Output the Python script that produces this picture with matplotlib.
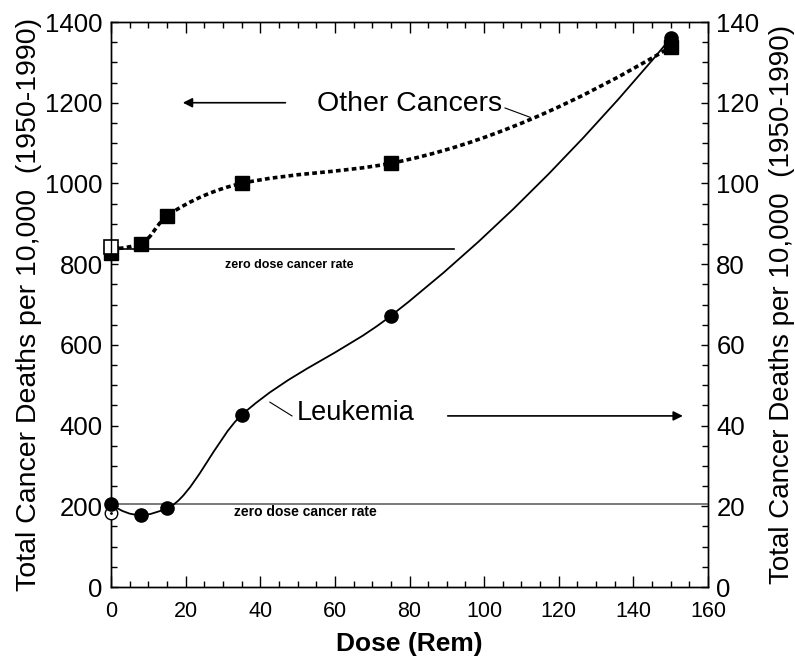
import numpy as np
import matplotlib
matplotlib.use("Agg")
import matplotlib.pyplot as plt
from matplotlib.path import Path
from matplotlib.patches import PathPatch
from matplotlib.ticker import MultipleLocator

plt.rcParams['font.family'] = ['Liberation Sans', 'DejaVu Sans']

# Other cancers (left axis, deaths per 10,000)
other_dose = [0, 8, 15, 35, 75, 150]
other_vals = [828, 850, 920, 1000, 1050, 1338]
other_zero_open = 843
other_zero_rate = 838

# Leukemia (right axis, deaths per 10,000)
leuk_dose = [0, 8, 15, 35, 75, 150]
leuk_vals = [20.5, 17.8, 19.5, 42.6, 67.2, 136]
leuk_zero_open = 18.3
leuk_zero_rate = 20.5

ylabel = "Total Cancer Deaths per 10,000  (1950-1990)"


def pchip_slopes(x, y):
    h = np.diff(x)
    d = np.diff(y) / h
    m = np.zeros(len(x))
    for i in range(1, len(x) - 1):
        if d[i - 1] * d[i] > 0:
            w1 = 2 * h[i] + h[i - 1]
            w2 = h[i] + 2 * h[i - 1]
            m[i] = (w1 + w2) / (w1 / d[i - 1] + w2 / d[i])
    # end points
    m0 = ((2 * h[0] + h[1]) * d[0] - h[0] * d[1]) / (h[0] + h[1])
    m[0] = m0 if m0 * d[0] > 0 else 0.0
    mn = ((2 * h[-1] + h[-2]) * d[-1] - h[-1] * d[-2]) / (h[-1] + h[-2])
    m[-1] = mn if mn * d[-1] > 0 else 0.0
    return m


def smooth_path(xs, ys):
    # piecewise cubic hermite through the points, drawn as bezier segments
    x = np.asarray(xs, float)
    y = np.asarray(ys, float)
    m = pchip_slopes(x, y)
    verts = [(x[0], y[0])]
    codes = [Path.MOVETO]
    for i in range(len(x) - 1):
        h = x[i + 1] - x[i]
        verts += [(x[i] + h / 3, y[i] + m[i] * h / 3),
                  (x[i + 1] - h / 3, y[i + 1] - m[i + 1] * h / 3),
                  (x[i + 1], y[i + 1])]
        codes += [Path.CURVE4] * 3
    return Path(verts, codes)


fig = plt.figure(figsize=(7.95, 6.67), dpi=100)
ax = fig.add_axes([0.1396, 0.1199, 0.751, 0.8471])
ax2 = ax.twinx()

ax.set_xlim(0, 160)
ax.set_ylim(0, 1400)
ax2.set_ylim(0, 140)

# other cancers curve
ox = other_dose
oy = [other_zero_rate] + other_vals[1:]
ax.add_patch(PathPatch(smooth_path(ox, oy), fill=False, lw=2.6,
                       linestyle=(0, (1.3, 0.9)), color='black', zorder=3))
ax.plot(other_dose, other_vals, 's', color='black', ms=10, zorder=4, clip_on=False)
ax.plot([0], [other_zero_open], 's', mfc='white', mec='black', ms=10, mew=1.2,
        zorder=5, clip_on=False)
ax.plot([0, 92], [other_zero_rate, other_zero_rate], color='black', lw=1.2)
ax.text(47.7, 797, "zero dose cancer rate", fontsize=9, fontweight='bold',
        ha='center', va='center')

# leukemia curve
ax2.add_patch(PathPatch(smooth_path(leuk_dose, leuk_vals), fill=False, lw=1.3,
                        color='black', zorder=3))
ax2.plot([0], [leuk_zero_open], 'o', mfc='white', mec='black', ms=9, mew=1.0,
         zorder=4, clip_on=False)
ax2.plot([0], [leuk_zero_open], '.', color='black', ms=2, zorder=5, clip_on=False)
ax2.plot(leuk_dose, leuk_vals, 'o', color='black', ms=9.5, zorder=6, clip_on=False)
ax2.plot([0, 160], [leuk_zero_rate, leuk_zero_rate], color='#555555', lw=1.1)
ax2.text(52, 18.5, "zero dose cancer rate", fontsize=10, fontweight='bold',
         ha='center', va='center')

# labels with arrows
ax.text(80, 1197, "Other Cancers", fontsize=20.5, ha='center', va='center')
ax.annotate("", xy=(18.5, 1200), xytext=(47.5, 1200),
            arrowprops=dict(arrowstyle='-|>', color='black', lw=1.2,
                            mutation_scale=14))
ax.plot([105.6, 112.3], [1187, 1164], color='black', lw=0.8)

ax.text(65.5, 430, "Leukemia", fontsize=19.5, ha='center', va='center')
ax.annotate("", xy=(154, 424), xytext=(89.5, 424),
            arrowprops=dict(arrowstyle='-|>', color='black', lw=1.2,
                            mutation_scale=14))
ax.plot([42.6, 48.5], [458, 424], color='black', lw=0.8)

# ticks
ax.xaxis.set_major_locator(MultipleLocator(20))
ax.xaxis.set_minor_locator(MultipleLocator(5))
ax.yaxis.set_major_locator(MultipleLocator(200))
ax.yaxis.set_minor_locator(MultipleLocator(50))
ax2.yaxis.set_major_locator(MultipleLocator(20))
ax2.yaxis.set_minor_locator(MultipleLocator(5))

ax.tick_params(axis='x', which='major', direction='in', length=8, width=1,
               labelsize=15.5, top=True, pad=10)
ax.tick_params(axis='x', which='minor', direction='in', length=4.5, width=1, top=True)
ax.tick_params(axis='y', which='major', direction='in', length=5, width=1,
               labelsize=18.5, pad=6)
ax.tick_params(axis='y', which='minor', direction='in', length=4.5, width=1)
ax2.tick_params(axis='y', which='major', direction='in', length=5, width=1,
                labelsize=18.5, pad=6)
ax2.tick_params(axis='y', which='minor', direction='in', length=4.5, width=1)

for a in (ax, ax2):
    for s in a.spines.values():
        s.set_linewidth(1.0)

ax.set_xlabel("Dose (Rem)", fontsize=19, fontweight='bold', labelpad=7)
ax.set_ylabel(ylabel, fontsize=20.5, labelpad=2)
ax2.set_ylabel(ylabel, fontsize=20, rotation=90, labelpad=7)

fig.savefig("out.png", dpi=100)
